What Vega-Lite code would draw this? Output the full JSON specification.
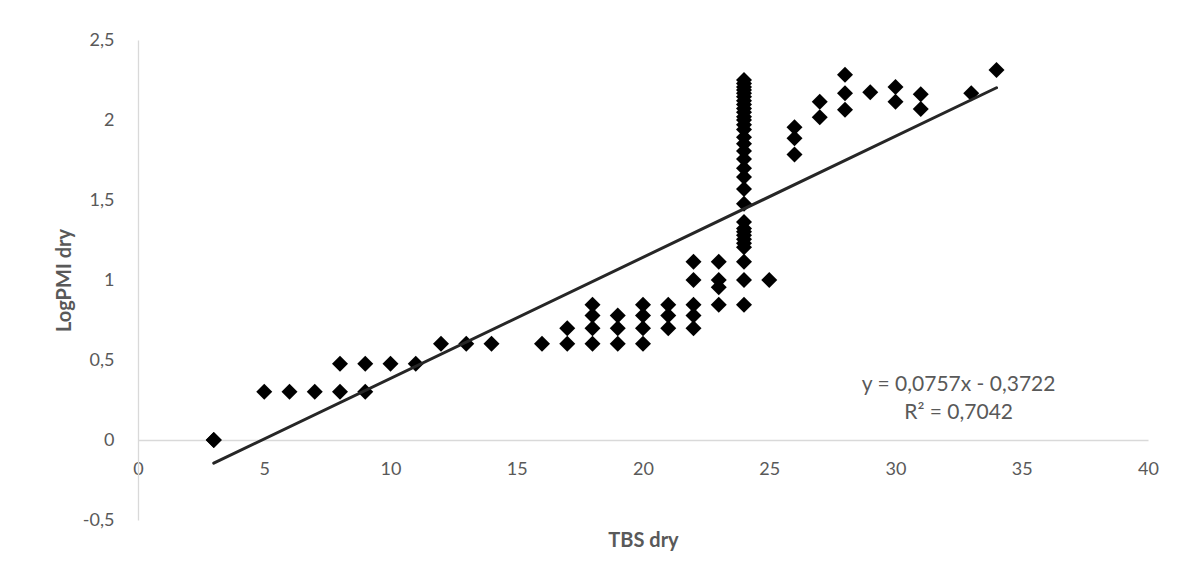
{
  "$schema": "https://vega.github.io/schema/vega-lite/v6.json",
  "width": 1010,
  "height": 480,
  "autosize": {"type": "none"},
  "padding": {"left": 138, "top": 40, "right": 36, "bottom": 58},
  "background": "white",
  "config": {
    "view": {"stroke": null},
    "font": "Lato",
    "axis": {
      "labelFont": "Lato",
      "labelFontSize": 18,
      "labelColor": "#595959",
      "labelFlush": false,
      "titleFont": "Lato",
      "titleFontSize": 20,
      "titleFontWeight": "bold",
      "titleColor": "#595959",
      "domainColor": "#d9d9d9",
      "domainWidth": 1.3,
      "ticks": false,
      "tickSize": 0,
      "grid": false
    }
  },
  "datasets": {
    "points": [
      {"tbs": 3, "logpmi": 0},
      {"tbs": 3, "logpmi": 0},
      {"tbs": 5, "logpmi": 0.301},
      {"tbs": 6, "logpmi": 0.301},
      {"tbs": 7, "logpmi": 0.301},
      {"tbs": 8, "logpmi": 0.301},
      {"tbs": 8, "logpmi": 0.477},
      {"tbs": 9, "logpmi": 0.301},
      {"tbs": 9, "logpmi": 0.477},
      {"tbs": 10, "logpmi": 0.477},
      {"tbs": 11, "logpmi": 0.477},
      {"tbs": 12, "logpmi": 0.602},
      {"tbs": 13, "logpmi": 0.602},
      {"tbs": 14, "logpmi": 0.602},
      {"tbs": 16, "logpmi": 0.602},
      {"tbs": 17, "logpmi": 0.602},
      {"tbs": 17, "logpmi": 0.699},
      {"tbs": 18, "logpmi": 0.602},
      {"tbs": 18, "logpmi": 0.699},
      {"tbs": 18, "logpmi": 0.778},
      {"tbs": 18, "logpmi": 0.845},
      {"tbs": 19, "logpmi": 0.602},
      {"tbs": 19, "logpmi": 0.699},
      {"tbs": 19, "logpmi": 0.778},
      {"tbs": 20, "logpmi": 0.602},
      {"tbs": 20, "logpmi": 0.699},
      {"tbs": 20, "logpmi": 0.778},
      {"tbs": 20, "logpmi": 0.845},
      {"tbs": 21, "logpmi": 0.699},
      {"tbs": 21, "logpmi": 0.778},
      {"tbs": 21, "logpmi": 0.845},
      {"tbs": 22, "logpmi": 0.699},
      {"tbs": 22, "logpmi": 0.778},
      {"tbs": 22, "logpmi": 0.845},
      {"tbs": 22, "logpmi": 1.0},
      {"tbs": 22, "logpmi": 1.114},
      {"tbs": 23, "logpmi": 0.845},
      {"tbs": 23, "logpmi": 0.954},
      {"tbs": 23, "logpmi": 1.0},
      {"tbs": 23, "logpmi": 1.114},
      {"tbs": 24, "logpmi": 0.845},
      {"tbs": 24, "logpmi": 1.0},
      {"tbs": 24, "logpmi": 1.114},
      {"tbs": 24, "logpmi": 1.204},
      {"tbs": 24, "logpmi": 1.23},
      {"tbs": 24, "logpmi": 1.255},
      {"tbs": 24, "logpmi": 1.279},
      {"tbs": 24, "logpmi": 1.301},
      {"tbs": 24, "logpmi": 1.322},
      {"tbs": 24, "logpmi": 1.362},
      {"tbs": 24, "logpmi": 1.477},
      {"tbs": 24, "logpmi": 1.568},
      {"tbs": 24, "logpmi": 1.643},
      {"tbs": 24, "logpmi": 1.699},
      {"tbs": 24, "logpmi": 1.756},
      {"tbs": 24, "logpmi": 1.806},
      {"tbs": 24, "logpmi": 1.851},
      {"tbs": 24, "logpmi": 1.892},
      {"tbs": 24, "logpmi": 1.94},
      {"tbs": 24, "logpmi": 1.97},
      {"tbs": 24, "logpmi": 2.0},
      {"tbs": 24, "logpmi": 2.021},
      {"tbs": 24, "logpmi": 2.049},
      {"tbs": 24, "logpmi": 2.072},
      {"tbs": 24, "logpmi": 2.097},
      {"tbs": 24, "logpmi": 2.121},
      {"tbs": 24, "logpmi": 2.146},
      {"tbs": 24, "logpmi": 2.167},
      {"tbs": 24, "logpmi": 2.188},
      {"tbs": 24, "logpmi": 2.207},
      {"tbs": 24, "logpmi": 2.228},
      {"tbs": 24, "logpmi": 2.25},
      {"tbs": 25, "logpmi": 1.0},
      {"tbs": 26, "logpmi": 1.785},
      {"tbs": 26, "logpmi": 1.886},
      {"tbs": 26, "logpmi": 1.954},
      {"tbs": 27, "logpmi": 2.017},
      {"tbs": 27, "logpmi": 2.114},
      {"tbs": 28, "logpmi": 2.064},
      {"tbs": 28, "logpmi": 2.167},
      {"tbs": 28, "logpmi": 2.283},
      {"tbs": 29, "logpmi": 2.173},
      {"tbs": 30, "logpmi": 2.114},
      {"tbs": 30, "logpmi": 2.207},
      {"tbs": 31, "logpmi": 2.068},
      {"tbs": 31, "logpmi": 2.161},
      {"tbs": 33, "logpmi": 2.167},
      {"tbs": 34, "logpmi": 2.312}
    ],
    "trend": [
      {"tbs": 3, "logpmi": -0.1451},
      {"tbs": 34, "logpmi": 2.2016}
    ],
    "equation": [
      {"tbs": 32.5, "logpmi": 0.28, "text": ["y = 0,0757x - 0,3722", "R² = 0,7042"]}
    ]
  },
  "layer": [
    {
      "data": {"name": "points"},
      "mark": {"type": "point", "shape": "diamond", "filled": true, "size": 256, "color": "#000000", "opacity": 1},
      "encoding": {
        "x": {
          "field": "tbs",
          "type": "quantitative",
          "scale": {"domain": [0, 40], "nice": false, "zero": false},
          "axis": {
            "title": "TBS dry",
            "values": [0, 5, 10, 15, 20, 25, 30, 35, 40],
            "offset": -80,
            "labelPadding": 20,
            "titlePadding": 52,
            "labelExpr": "replace(toString(datum.value), '.', ',')"
          }
        },
        "y": {
          "field": "logpmi",
          "type": "quantitative",
          "scale": {"domain": [-0.5, 2.5], "nice": false, "zero": false},
          "axis": {
            "title": "LogPMI dry",
            "values": [-0.5, 0, 0.5, 1, 1.5, 2, 2.5],
            "labelPadding": 24,
            "titlePadding": 8,
            "labelExpr": "replace(toString(datum.value), '.', ',')"
          }
        }
      }
    },
    {
      "data": {"name": "trend"},
      "mark": {"type": "line", "color": "#262626", "strokeWidth": 3, "strokeCap": "round"},
      "encoding": {
        "x": {"field": "tbs", "type": "quantitative"},
        "y": {"field": "logpmi", "type": "quantitative"}
      }
    },
    {
      "data": {"name": "equation"},
      "mark": {"type": "text", "font": "Lato", "fontSize": 21, "color": "#595959", "align": "center", "baseline": "bottom", "lineHeight": 28},
      "encoding": {
        "x": {"field": "tbs", "type": "quantitative"},
        "y": {"field": "logpmi", "type": "quantitative"},
        "text": {"field": "text"}
      }
    }
  ]
}
